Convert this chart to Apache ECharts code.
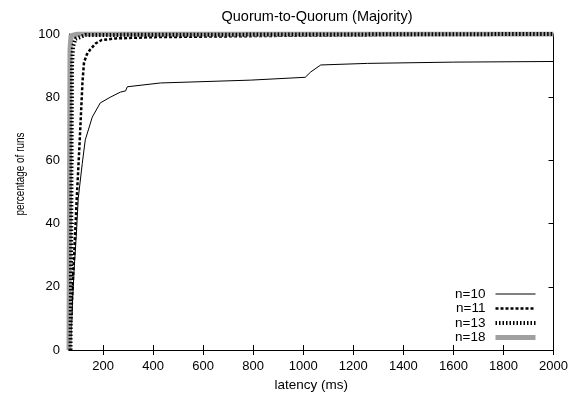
<!DOCTYPE html>
<html>
<head>
<meta charset="utf-8">
<script src="https://cdn.jsdelivr.net/npm/echarts@6/dist/echarts.min.js"></script>
<style>
  html, body { margin: 0; padding: 0; background: #fff; }
  #chart { width: 571px; height: 398px; }
</style>
</head>
<body>
<div id="chart"></div>
<script>
var xTicks = [200, 400, 600, 800, 1000, 1200, 1400, 1600, 1800, 2000];
var yTicks = [0, 20, 40, 60, 80, 100];

var n10Latency = [68, 72, 78, 84, 93, 101, 117, 129, 157, 189, 229, 269, 290, 297, 429, 789, 1008, 1030, 1070, 1257, 1600, 2000];
var n10Percent = [0, 5, 15, 25, 36, 48, 59, 66.5, 73.7, 78.2, 80, 81.6, 82, 83.3, 84.5, 85.4, 86.3, 88, 90.2, 90.7, 91.1, 91.3];

var n11Latency = [66, 70, 76, 88, 95, 106, 112, 118, 124, 135, 148, 170, 195, 250, 400, 1000, 2000];
var n11Percent = [0, 5, 16, 36, 48, 65, 75, 85, 91, 93.5, 95, 97, 98.1, 98.6, 99, 99.5, 100];

var n13Latency = [70, 72, 74, 76, 80, 90, 130, 2000];
var n13Percent = [0, 20, 60, 90, 96, 98.5, 99.7, 100];

var n18Latency = [64, 66, 68, 72, 100, 2000];
var n18Percent = [0, 50, 95, 99.5, 100, 100];

function pairs(xs, ys) {
    var out = [];
    for (var i = 0; i < xs.length; i++) {
        out.push([xs[i], ys[i]]);
    }
    return out;
}

var font = "'Liberation Sans', Arial, sans-serif";
var dom = document.getElementById("chart");
var myChart = echarts.init(dom);

var tickStyle = {show: true, inside: true, length: 5, lineStyle: {color: '#000', width: 1}};
var hideSymbol = {opacity: 0};

var option = {
    animation: false,
    backgroundColor: '#fff',
    title: {
        text: 'Quorum-to-Quorum (Majority)',
        left: 312,
        top: 4,
        textAlign: 'center',
        textStyle: {fontFamily: font, fontSize: 14.5, fontWeight: 'normal', color: '#000'}
    },
    graphic: [
        {
            // y label is squeezed along its length in the original
            type: 'text',
            x: 20,
            y: 174,
            rotation: Math.PI / 2,
            scaleX: 0.83,
            scaleY: 1.1,
            style: {
                text: 'percentage of runs',
                fontFamily: font,
                fontSize: 12,
                fill: '#000',
                align: 'center',
                verticalAlign: 'middle'
            }
        }
    ],
    legend: {
        orient: 'vertical',
        right: 33,
        top: 287,
        padding: 0,
        align: 'right',
        itemWidth: 40,
        itemHeight: 10,
        itemGap: 0.5,
        textStyle: {fontFamily: font, fontSize: 13.5, lineHeight: 14, color: '#000', padding: [0, 5, 0, 0]},
        data: [
            {name: 'n=10', itemStyle: hideSymbol, lineStyle: {width: 1}},
            {name: 'n=11', itemStyle: hideSymbol, lineStyle: {width: 2.5}},
            {name: 'n=13', itemStyle: hideSymbol, lineStyle: {width: 4}},
            {name: 'n=18', itemStyle: hideSymbol, lineStyle: {width: 5}}
        ]
    },
    grid: {left: 69, right: 15, top: 34, bottom: 48},
    xAxis: [
        {
            type: 'value',
            min: 64,
            max: 2000,
            name: 'latency (ms)',
            nameLocation: 'middle',
            nameGap: 27,
            nameTextStyle: {fontFamily: font, fontSize: 13.5, color: '#000'},
            axisLine: {show: true, lineStyle: {color: '#000', width: 1}},
            axisTick: Object.assign({customValues: xTicks}, tickStyle),
            axisLabel: {
                customValues: xTicks,
                fontFamily: font,
                fontSize: 13,
                color: '#000',
                margin: 10,
                formatter: function (v) { return String(v); }
            },
            splitLine: {show: false}
        },
        {
            type: 'value',
            position: 'top',
            min: 64,
            max: 2000,
            axisLine: {show: true, lineStyle: {color: '#000', width: 1}},
            axisTick: Object.assign({customValues: xTicks}, tickStyle),
            axisLabel: {show: false},
            splitLine: {show: false}
        }
    ],
    yAxis: [
        {
            type: 'value',
            min: 0,
            max: 100,
            interval: 20,
            axisLine: {show: true, lineStyle: {color: '#000', width: 1}},
            axisTick: tickStyle,
            axisLabel: {fontFamily: font, fontSize: 13, color: '#000', margin: 9},
            splitLine: {show: false}
        },
        {
            type: 'value',
            position: 'right',
            min: 0,
            max: 100,
            interval: 20,
            axisLine: {show: true, lineStyle: {color: '#000', width: 1}},
            axisTick: tickStyle,
            axisLabel: {show: false},
            splitLine: {show: false}
        }
    ],
    series: [
        {
            name: 'n=10',
            type: 'line',
            showSymbol: false,
            symbol: 'none',
            data: pairs(n10Latency, n10Percent),
            itemStyle: {color: '#000'},
            lineStyle: {color: '#000', width: 1}
        },
        {
            name: 'n=11',
            type: 'line',
            showSymbol: false,
            symbol: 'none',
            data: pairs(n11Latency, n11Percent),
            itemStyle: {color: '#000'},
            lineStyle: {color: '#000', width: 2.5, type: [3, 2]}
        },
        {
            name: 'n=18',
            type: 'line',
            showSymbol: false,
            symbol: 'none',
            data: pairs(n18Latency, n18Percent),
            itemStyle: {color: '#a0a0a0'},
            lineStyle: {color: '#a0a0a0', width: 5}
        },
        {
            name: 'n=13',
            type: 'line',
            showSymbol: false,
            symbol: 'none',
            data: pairs(n13Latency, n13Percent),
            itemStyle: {color: '#000'},
            lineStyle: {color: '#000', width: 4, type: [1.5, 2]}
        }
    ]
};

if (option && typeof option === "object") {
    myChart.setOption(option, true);
}
</script>
</body>
</html>
